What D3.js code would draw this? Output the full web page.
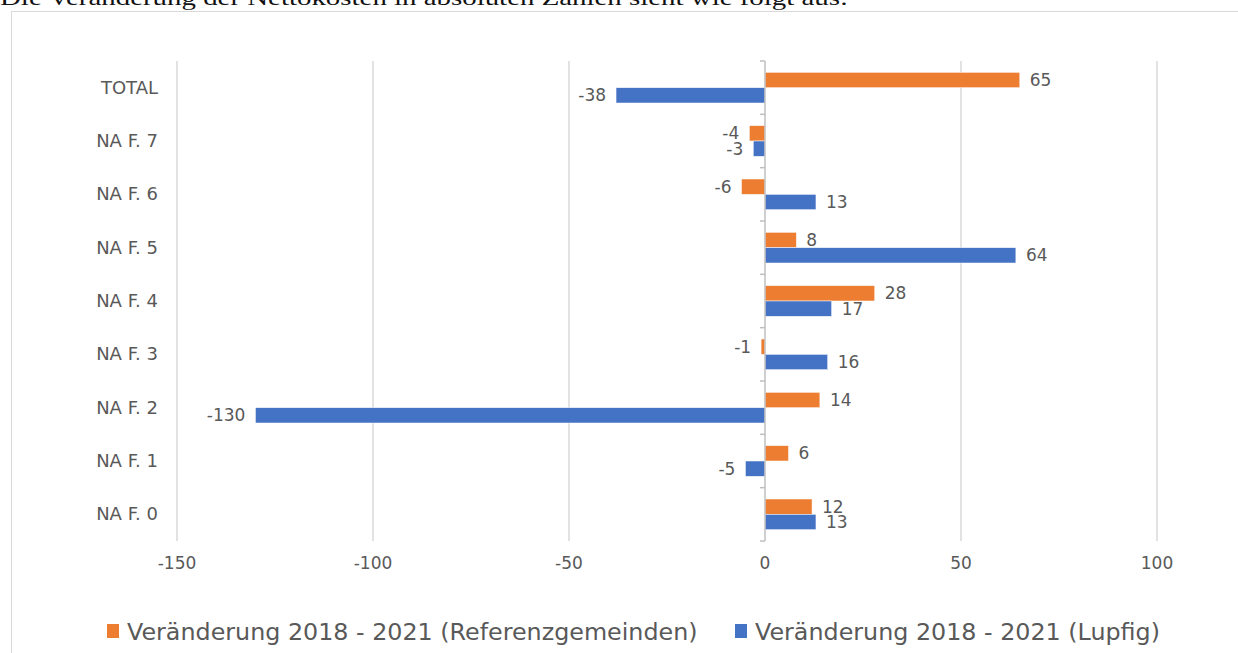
<!DOCTYPE html>
<html lang="de">
<head>
  <meta charset="UTF-8" />
  <title>Veränderung Nettokosten</title>
  <style>
    body { margin: 0; background: white; }
    svg { display: block; }
    .cat, .tick-label, .value { font-family: "DejaVu Sans", sans-serif; fill: #595959; }
    .legend { font-family: "DejaVu Sans", sans-serif; fill: #595959; font-size: 23.8px; }
  </style>
</head>
<body>
  <svg width="1238" height="653"></svg>
  <script src="https://d3js.org/d3.v7.min.js"></script>
  <script>
    const categories = ["TOTAL", "NA F. 7", "NA F. 6", "NA F. 5", "NA F. 4", "NA F. 3", "NA F. 2", "NA F. 1", "NA F. 0"];
    const referenz = [65, -4, -6, 8, 28, -1, 14, 6, 12];
    const lupfig = [-38, -3, 13, 64, 17, 16, -130, -5, 13];
    const seriesNames = ["Veränderung 2018 - 2021 (Referenzgemeinden)", "Veränderung 2018 - 2021 (Lupfig)"];
    const seriesColors = ["#ED7D31", "#4472C4"];
    const xTicks = [-150, -100, -50, 0, 50, 100];

    const svg = d3.select("svg");

    // intro sentence, cut off at the top of the screenshot
    svg.append("text")
      .attr("x", 0)
      .attr("y", 5)
      .attr("font-family", "Liberation Serif, serif")
      .attr("font-size", 22)
      .attr("textLength", 848)
      .attr("lengthAdjust", "spacingAndGlyphs")
      .attr("fill", "#111")
      .text("Die Veränderung der Nettokosten in absoluten Zahlen sieht wie folgt aus:");

    // chart frame
    svg.append("rect")
      .attr("x", 11.5).attr("y", 11.5)
      .attr("width", 1240).attr("height", 660)
      .attr("fill", "none")
      .attr("stroke", "#d9d9d9");

    const x = d3.scaleLinear().domain([-150, 100]).range([177, 1157]);
    const y = d3.scaleBand().domain(categories).range([61, 541]).paddingInner(0.425).paddingOuter(0.2125);
    const sub = d3.scaleBand().domain([0, 1]).range([0, y.bandwidth()]);

    // gridlines
    svg.append("g")
      .selectAll("line")
      .data(xTicks.filter(d => d !== 0))
      .join("line")
        .attr("x1", d => x(d)).attr("x2", d => x(d))
        .attr("y1", 61).attr("y2", 541)
        .attr("stroke", "#d9d9d9")
        .attr("stroke-width", 1.5);

    // tick labels
    svg.append("g")
      .selectAll("text")
      .data(xTicks)
      .join("text")
        .attr("class", "tick-label")
        .attr("x", d => x(d))
        .attr("y", 569)
        .attr("text-anchor", "middle")
        .attr("font-size", 17)
        .text(d => d);

    // category labels
    svg.append("g")
      .selectAll("text")
      .data(categories)
      .join("text")
        .attr("class", "cat")
        .attr("x", 158)
        .attr("y", d => y(d) + y.bandwidth() / 2 + 6)
        .attr("text-anchor", "end")
        .attr("font-size", 18)
        .text(d => d);

    const rows = [];
    categories.forEach((c, i) => {
      rows.push({ cat: c, s: 0, v: referenz[i] });
      rows.push({ cat: c, s: 1, v: lupfig[i] });
    });

    svg.append("g")
      .selectAll("rect")
      .data(rows)
      .join("rect")
        .attr("x", d => x(Math.min(0, d.v)))
        .attr("y", d => y(d.cat) + sub(d.s))
        .attr("width", d => Math.abs(x(d.v) - x(0)))
        .attr("height", sub.bandwidth())
        .attr("fill", d => seriesColors[d.s])
        .attr("stroke", "white")
        .attr("stroke-width", 0.5);

    svg.append("g")
      .selectAll("text")
      .data(rows)
      .join("text")
        .attr("class", "value")
        .attr("x", d => d.v >= 0 ? x(d.v) + 10 : x(d.v) - 10)
        .attr("y", d => y(d.cat) + sub(d.s) + sub.bandwidth() / 2 + 6)
        .attr("text-anchor", d => d.v >= 0 ? "start" : "end")
        .attr("font-size", 17)
        .text(d => d.v);

    // zero axis with small category ticks
    const axis = svg.append("g").attr("stroke", "#bfbfbf").attr("stroke-width", 1.5);
    axis.append("line")
      .attr("x1", x(0)).attr("x2", x(0))
      .attr("y1", 61).attr("y2", 541);
    axis.selectAll("line.tk")
      .data(d3.range(categories.length + 1))
      .join("line")
        .attr("class", "tk")
        .attr("x1", x(0) - 5).attr("x2", x(0))
        .attr("y1", i => 61 + i * (480 / categories.length))
        .attr("y2", i => 61 + i * (480 / categories.length));

    // legend
    const legendX = [107, 735];
    const lg = svg.append("g")
      .selectAll("g")
      .data(seriesNames)
      .join("g")
        .attr("transform", (d, i) => `translate(${legendX[i]},631)`);
    lg.append("rect")
      .attr("x", 0).attr("y", -7)
      .attr("width", 12).attr("height", 14)
      .attr("fill", (d, i) => seriesColors[i]);
    lg.append("text")
      .attr("class", "legend")
      .attr("x", 20)
      .attr("y", 8.5)
      .text(d => d);
  </script>
</body>
</html>
